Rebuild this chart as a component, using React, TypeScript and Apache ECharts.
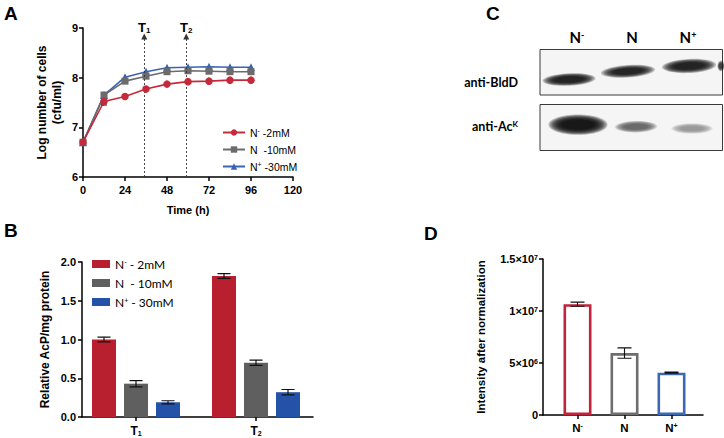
import React, { useEffect, useRef } from 'react';
import * as echarts from 'echarts';

// ---------- Panel A: growth curves ----------
const timeHours = [0, 12, 24, 36, 48, 60, 72, 84, 96];
const growthLow = [6.7, 7.52, 7.62, 7.77, 7.87, 7.92, 7.93, 7.95, 7.95];
const growthMid = [6.7, 7.65, 7.93, 8.03, 8.12, 8.14, 8.13, 8.12, 8.12];
const growthHigh = [6.7, 7.65, 8.01, 8.12, 8.2, 8.21, 8.22, 8.21, 8.21];
const growthLowErr = [0.02, 0.07, 0.02, 0.02, 0.01, 0.01, 0.01, 0.01, 0.01];
const samplingHours = [35, 59];
const samplingLabels = ['1', '2'];
const growthLegend = ['N{sup|-} -2mM', 'N  -10mM', 'N{sup|+} -30mM'];

// ---------- Panel B: AcP ----------
const acpGroups = ['1', '2'];
const acpLow = [1.0, 1.82];
const acpLowErr = [0.03, 0.03];
const acpMid = [0.43, 0.7];
const acpMidErr = [0.04, 0.035];
const acpHigh = [0.19, 0.32];
const acpHighErr = [0.02, 0.035];
const acpLegend = ['N{sup|-} - 2mM', 'N  - 10mM', 'N{sup|+} - 30mM'];

// ---------- Panel D: intensity ----------
const intensityCats = ['N{sup|-}', 'N', 'N{sup|+}'];
const intensity = [1.065e7, 5.95e6, 4.07e6];
const intensityErr = [2e5, 5e5, 5e4];
const intensityTicks = [0, 5e6, 1e7, 1.5e7];
const intensityTickLabels = ['0', '5×10{sup|6}', '1×10{sup|7}', '1.5×10{sup|7}'];

// ---------- Panel C: blot ----------
const blotLanes = ['N{sup|-}', 'N', 'N{sup|+}'];
const blotRows = ['anti-BldD', 'anti-Ac{sup|K}'];

const AX = '"Liberation Sans", Arial, sans-serif';
const LB = 'Lato, "Open Sans", sans-serif';

const RED_A = '#c42a3a';
const GRAY_A = '#6b6b6b';
const BLUE_A = '#3a63b4';
const RED_B = '#b81f2f';
const GRAY_B = '#5f5f5f';
const BLUE_B = '#2452a8';
const RED_D = '#c0233a';
const GRAY_D = '#6e6e6e';
const BLUE_D = '#3d69b3';

const axisLineStyle = { color: '#000', width: 1.5 };

function richSet(size: number, weight: string, family: string) {
  return {
    n: { fontSize: size, fontWeight: weight, fontFamily: family, color: '#000' },
    sup: { fontSize: Math.round(size * 0.62), fontWeight: weight, fontFamily: family, color: '#000', verticalAlign: 'top' },
    sub: { fontSize: Math.round(size * 0.62), fontWeight: weight, fontFamily: family, color: '#000', verticalAlign: 'bottom', padding: [4, 0, 0, 0] },
  };
}

function wrapRich(s: string) {
  const parts: string[] = [];
  const re = /\{(sup|sub)\|([^}]*)\}/g;
  let last = 0;
  let m;
  while ((m = re.exec(s))) {
    if (m.index > last) parts.push('{n|' + s.slice(last, m.index) + '}');
    parts.push(m[0]);
    last = m.index + m[0].length;
  }
  if (last < s.length) parts.push('{n|' + s.slice(last) + '}');
  return parts.join('');
}

function errRenderer(errs: number[], offsetPx: number, capHalf: number, lw: number) {
  return (params: any, api: any) => {
    const x = Number(api.value(0));
    const y = Number(api.value(1));
    const e = Number(errs[params.dataIndex]);
    const top = api.coord([x, y + e]);
    const bot = api.coord([x, y - e]);
    const cx = top[0] + offsetPx;
    return {
      type: 'polyline',
      shape: {
        points: [
          [cx - capHalf, top[1]],
          [cx + capHalf, top[1]],
          [cx, top[1]],
          [cx, bot[1]],
          [cx - capHalf, bot[1]],
          [cx + capHalf, bot[1]],
        ],
      },
      style: { stroke: '#111', lineWidth: lw, fill: 'none' },
    };
  };
}

function band(cx: number, cy: number, rx: number, ry: number, color: string, alpha: number, rot: number) {
  const layers = 10;
  const children: any[] = [];
  for (let i = 0; i < layers; i++) {
    const t = i / (layers - 1);
    children.push({
      type: 'ellipse',
      silent: true,
      shape: { cx: 0, cy: 0, rx: rx * (1.18 - 0.55 * t), ry: ry * (1.35 - 0.75 * t) },
      style: { fill: color, opacity: alpha },
    });
  }
  return { type: 'group', x: cx, y: cy, rotation: rot, children };
}

function panelLabel(t: string, x: number, y: number) {
  return {
    type: 'text',
    x,
    y,
    style: { text: t, fontSize: 19, fontWeight: 'bold', fontFamily: AX, fill: '#000', align: 'left', verticalAlign: 'top' },
  };
}

function richText(t: string, x: number, y: number, size: number, align: string) {
  return {
    type: 'text',
    x,
    y,
    style: {
      text: wrapRich(t),
      align,
      verticalAlign: 'middle',
      rich: richSet(size, 'bold', LB),
    },
  };
}

export default function App() {
  const ref = useRef<HTMLDivElement>(null);

  useEffect(() => {
    if (!ref.current) return;
    const chart = echarts.init(ref.current, undefined, { renderer: 'svg' });

    const growthSeriesDefs = [
      { id: 'A-high', data: growthHigh, color: BLUE_A, symbol: 'triangle', size: 8 },
      { id: 'A-mid', data: growthMid, color: GRAY_A, symbol: 'rect', size: 7 },
      { id: 'A-low', data: growthLow, color: RED_A, symbol: 'circle', size: 7.5 },
    ];
    const legendMapA: Record<string, string> = {
      'A-low': growthLegend[0],
      'A-mid': growthLegend[1],
      'A-high': growthLegend[2],
    };
    const legendMapB: Record<string, string> = {
      'B-low': acpLegend[0],
      'B-mid': acpLegend[1],
      'B-high': acpLegend[2],
    };

    const series: any[] = [];

    series.push({
      type: 'custom',
      xAxisIndex: 0,
      yAxisIndex: 0,
      z: 1,
      renderItem: errRenderer(growthLowErr, 0, 3, 1),
      data: timeHours.map((h, i) => [h, growthLow[i]]),
      silent: true,
    });

    growthSeriesDefs.forEach((d, k) => {
      series.push({
        type: 'line',
        name: d.id,
        xAxisIndex: 0,
        yAxisIndex: 0,
        data: timeHours.map((h, i) => [h, d.data[i]]),
        symbol: d.symbol,
        symbolSize: d.size,
        lineStyle: { color: d.color, width: 1.6 },
        itemStyle: { color: d.color },
        z: 3 + k,
        markLine:
          k === 0
            ? {
                silent: true,
                symbol: ['none', 'triangle'],
                symbolSize: 6,
                lineStyle: { color: '#333', type: [2, 2], width: 0.9 },
                label: {
                  show: true,
                  position: 'end',
                  distance: 2,
                  formatter: (p: any) => '{n|T}{sub|' + samplingLabels[p.dataIndex] + '}',
                  rich: richSet(13, 'bold', AX),
                },
                data: samplingHours.map((h) => [{ coord: [h, 6] }, { coord: [h, 8.83] }]),
              }
            : undefined,
      });
    });

    const acpDefs = [
      { id: 'B-low', data: acpLow, err: acpLowErr, color: RED_B },
      { id: 'B-mid', data: acpMid, err: acpMidErr, color: GRAY_B },
      { id: 'B-high', data: acpHigh, err: acpHighErr, color: BLUE_B },
    ];
    const barW = 24;
    const barGapPx = 8;
    acpDefs.forEach((d) => {
      series.push({
        type: 'bar',
        name: d.id,
        xAxisIndex: 1,
        yAxisIndex: 1,
        barWidth: barW,
        barGap: (barGapPx / barW) * 100 + '%',
        data: acpGroups.map((g, i) => [i, d.data[i]]),
        itemStyle: { color: d.color },
      });
    });
    acpDefs.forEach((d, k) => {
      series.push({
        type: 'custom',
        xAxisIndex: 1,
        yAxisIndex: 1,
        z: 5,
        silent: true,
        renderItem: errRenderer(d.err, (k - 1) * (barW + barGapPx), 6.5, 1.2),
        data: acpGroups.map((g, i) => [i, d.data[i]]),
      });
    });

    const dColors = [RED_D, GRAY_D, BLUE_D];
    series.push({
      type: 'bar',
      name: 'D',
      xAxisIndex: 2,
      yAxisIndex: 2,
      barWidth: 28,
      data: intensity.map((v, i) => ({
        value: [i, v],
        itemStyle: { color: '#fff', borderColor: dColors[i], borderWidth: 2.6 },
      })),
    });
    series.push({
      type: 'custom',
      xAxisIndex: 2,
      yAxisIndex: 2,
      z: 5,
      silent: true,
      renderItem: errRenderer(intensityErr, 0, 7, 1.1),
      data: intensity.map((v, i) => [i, v]),
    });

    const tickLabel = { color: '#000', fontWeight: 'bold', fontFamily: AX, fontSize: 11 };

    const blotX = 540;
    const blotW = 182.5;
    const graphics: any[] = [
      panelLabel('A', 4, 4),
      panelLabel('B', 4, 221),
      panelLabel('C', 486, 4),
      panelLabel('D', 424, 224),
      {
        type: 'rect',
        shape: { x: blotX, y: 49.5, width: blotW, height: 45.5 },
        style: { fill: '#f5f5f5', stroke: '#3a3a3a', lineWidth: 1 },
        silent: true,
      },
      {
        type: 'rect',
        shape: { x: blotX, y: 104.5, width: blotW, height: 46 },
        style: { fill: '#f5f5f5', stroke: '#3a3a3a', lineWidth: 1 },
        silent: true,
      },
      band(569, 79.5, 22.5, 4.6, '#111', 0.22, 0.05),
      band(628, 71.3, 23, 4.6, '#111', 0.2, 0.07),
      band(689, 66, 23, 5.2, '#111', 0.22, 0.05),
      band(721, 66, 3, 4, '#222', 0.16, 0),
      band(578, 124.7, 25, 7.5, '#0a0a0a', 0.25, 0.0),
      band(636, 126.7, 18, 4.3, '#555', 0.17, 0.02),
      band(692, 128.5, 17.5, 3.8, '#888', 0.15, 0.0),
      richText(blotLanes[0], 577, 37, 15, 'center'),
      richText(blotLanes[1], 632, 37, 15, 'center'),
      richText(blotLanes[2], 688, 37, 15, 'center'),
      richText(blotRows[0], 518, 82, 12.5, 'right'),
      richText(blotRows[1], 518, 126, 12.5, 'right'),
    ];

    const option: any = {
      animation: false,
      backgroundColor: '#fff',
      textStyle: { fontFamily: AX },
      grid: [
        { left: 83, top: 28, width: 210, height: 149, outerBoundsMode: 'none' },
        { left: 82, top: 262, width: 231, height: 155, outerBoundsMode: 'none' },
        { left: 543, top: 259, width: 160, height: 156, outerBoundsMode: 'none' },
      ],
      xAxis: [
        {
          gridIndex: 0,
          type: 'value',
          min: 0,
          max: 120,
          interval: 24,
          axisLine: { show: true, onZero: false, lineStyle: axisLineStyle },
          axisTick: { show: true, length: 4, lineStyle: { width: 1.5, color: '#000' } },
          axisLabel: { ...tickLabel, margin: 7 },
          splitLine: { show: false },
          name: 'Time (h)',
          nameLocation: 'middle',
          nameGap: 27,
          nameTextStyle: { fontWeight: 'bold', fontSize: 11, color: '#000', fontFamily: AX },
        },
        {
          gridIndex: 1,
          type: 'value',
          min: -0.45,
          max: 1.475,
          axisLine: { show: true, onZero: false, lineStyle: axisLineStyle },
          axisTick: { show: true, length: 4, lineStyle: { width: 1.5, color: '#000' }, customValues: [0, 1] },
          axisLabel: {
            customValues: [0, 1],
            margin: 8,
            formatter: (v: number) => '{n|T}{sub|' + acpGroups[Math.round(v)] + '}',
            rich: richSet(12, 'bold', AX),
          },
          splitLine: { show: false },
        },
        {
          gridIndex: 2,
          type: 'value',
          min: -0.734,
          max: 2.67,
          axisLine: { show: true, onZero: false, lineStyle: axisLineStyle },
          axisTick: { show: true, length: 4, lineStyle: { width: 1.5, color: '#000' }, customValues: [0, 1, 2] },
          axisLabel: {
            customValues: [0, 1, 2],
            margin: 7,
            formatter: (v: number) => wrapRich(intensityCats[Math.round(v)]),
            rich: richSet(11.5, 'bold', AX),
          },
          splitLine: { show: false },
        },
      ],
      yAxis: [
        {
          gridIndex: 0,
          type: 'value',
          min: 6,
          max: 9,
          interval: 1,
          axisLine: { show: true, onZero: false, lineStyle: axisLineStyle },
          axisTick: { show: true, length: 4, lineStyle: { width: 1.5, color: '#000' } },
          axisLabel: { ...tickLabel, margin: 5 },
          splitLine: { show: false },
          name: 'Log number of cells\n(cfu/ml)',
          nameLocation: 'middle',
          nameGap: 19,
          nameTextStyle: { fontWeight: 'bold', fontSize: 12, lineHeight: 15, color: '#000', fontFamily: AX },
        },
        {
          gridIndex: 1,
          type: 'value',
          min: 0,
          max: 2,
          interval: 0.5,
          axisLine: { show: true, onZero: false, lineStyle: axisLineStyle },
          axisTick: { show: true, length: 4, lineStyle: { width: 1.5, color: '#000' } },
          axisLabel: { ...tickLabel, margin: 6, formatter: (v: number) => v.toFixed(1) },
          splitLine: { show: false },
          name: 'Relative AcP/mg protein',
          nameLocation: 'middle',
          nameGap: 31,
          nameTextStyle: { fontWeight: 'bold', fontSize: 12, color: '#000', fontFamily: AX },
        },
        {
          gridIndex: 2,
          type: 'value',
          min: 0,
          max: 1.5e7,
          interval: 5e6,
          axisLine: { show: true, onZero: false, lineStyle: axisLineStyle },
          axisTick: { show: true, length: 4, lineStyle: { width: 1.5, color: '#000' } },
          axisLabel: {
            margin: 5,
            formatter: (v: number) => {
              const i = intensityTicks.findIndex((t) => Math.abs(t - v) < 1);
              return wrapRich(i >= 0 ? intensityTickLabels[i] : String(v));
            },
            rich: richSet(11, 'bold', AX),
          },
          splitLine: { show: false },
          name: 'Intensity after normalization',
          nameLocation: 'middle',
          nameGap: 56,
          nameTextStyle: { fontWeight: 'bold', fontSize: 11.5, color: '#000', fontFamily: AX },
        },
      ],
      legend: [
        {
          data: ['A-low', 'A-mid', 'A-high'],
          orient: 'vertical',
          left: 222,
          top: 127,
          itemWidth: 22,
          itemHeight: 8,
          itemGap: 6,
          selectedMode: false,
          padding: 0,
          formatter: (n: string) => wrapRich(legendMapA[n]),
          textStyle: { rich: richSet(10.5, 'normal', AX) },
        },
        {
          data: ['B-low', 'B-mid', 'B-high'],
          orient: 'vertical',
          left: 92,
          top: 258,
          itemWidth: 18,
          itemHeight: 8,
          itemGap: 7,
          icon: 'rect',
          selectedMode: false,
          padding: 0,
          formatter: (n: string) => wrapRich(legendMapB[n]),
          textStyle: { rich: richSet(12, 'normal', LB) },
        },
      ],
      graphic: graphics,
      series,
    };

    chart.setOption(option);
    return () => chart.dispose();
  }, []);

  return (
    <div
      ref={ref}
      style={{ position: 'fixed', left: 0, top: 0, width: 724, height: 438, background: '#fff' }}
    />
  );
}
